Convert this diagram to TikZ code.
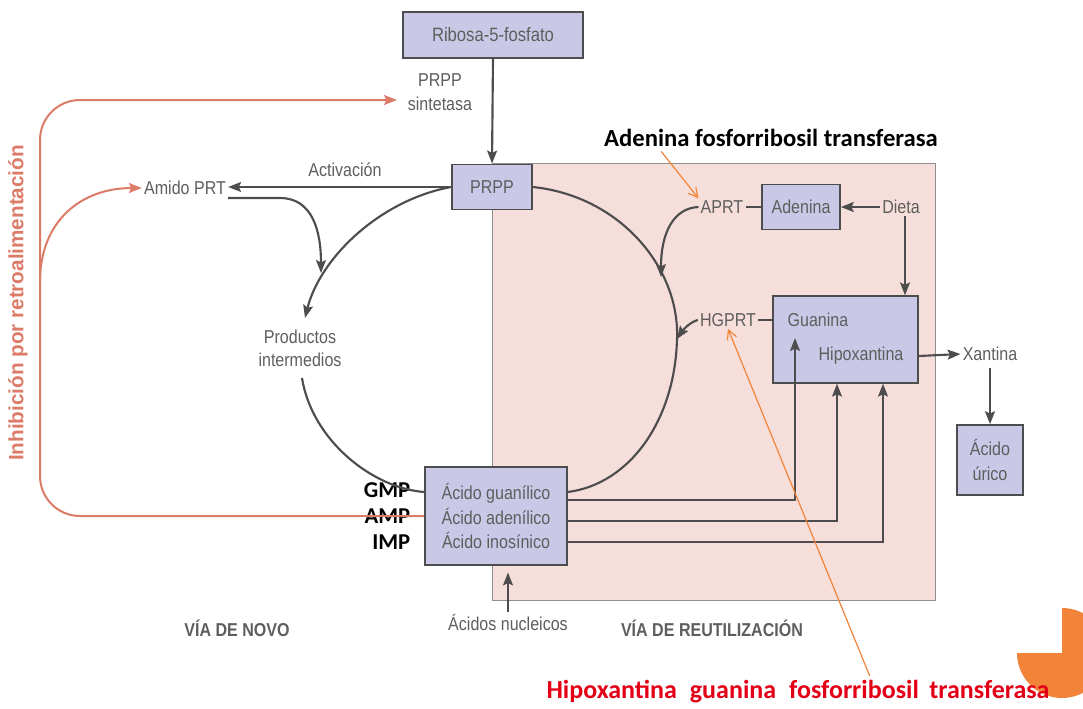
\documentclass[tikz,border=0pt]{standalone}
\usepackage{fontspec}
\setmainfont{Liberation Sans}
\newfontfamily\figfont[FakeStretch=0.86]{Liberation Sans}
\newfontfamily\notefont{Carlito}
\usepackage{xcolor}
\definecolor{cBox}{HTML}{C9C8E6}
\definecolor{cLine}{HTML}{4D4D4D}
\definecolor{cText}{HTML}{5E5E5E}
\definecolor{cPink}{HTML}{F6DFDA}
\definecolor{cRed}{HTML}{DC7B68}
\definecolor{cOrange}{HTML}{F2843A}
\definecolor{cNote}{HTML}{E30016}
\usepackage{tikz}
\usetikzlibrary{arrows.meta,calc}
\tikzset{
  node-box/.style={draw=cLine,line width=1.2pt,fill=cBox,text=cText,
    align=center,font=\figfont\fontsize{14pt}{18.5pt}\selectfont},
  node-label/.style={text=cText,align=center,inner sep=1.5pt,
    font=\figfont\fontsize{14pt}{18pt}\selectfont},
  node-title/.style={text=cText,font=\figfont\bfseries\fontsize{14pt}{16pt}\selectfont},
  node-note/.style={font=\notefont\bfseries\fontsize{17pt}{19pt}\selectfont},
  arrow/.style={-{Stealth[length=3.4mm,width=2.6mm,inset=0.6mm]},line width=1.6pt,draw=cLine},
  link/.style={line width=1.6pt,draw=cLine},
  arrow-red/.style={-{Stealth[length=3.4mm,width=2.6mm,inset=0.6mm]},line width=1.5pt,draw=cRed},
  arrow-note/.style={-{Straight Barb[length=2.4mm,width=2.6mm]},line width=0.9pt,draw=cOrange},
}

\begin{document}
\begin{tikzpicture}[x=0.75pt,y=-0.75pt]
  \useasboundingbox (0,0) rectangle (1083,708);
  % zona de reutilizacion
  \fill[cPink] (492,163) rectangle (935,600);
  \draw[cText!70,line width=0.5pt] (492,163) rectangle (935,600);
  \begin{scope}
    \clip (0,0) rectangle (1083,708);
    \fill[cOrange] (1062,653) -- (1062,608) arc[start angle=90,end angle=-180,radius=33.75pt] -- cycle;
  \end{scope}

  \node[node-box,minimum width=135pt,minimum height=34.5pt,font=\figfont\fontsize{14.5pt}{17pt}\selectfont]
                                                    (ribosa)   at (493,35)  {Ribosa-5-fosfato};
  \node[node-label]                                 (synth)    at (440,92)  {PRPP\\sintetasa};
  \node[node-box,minimum width=60pt,minimum height=34pt]  (prpp)     at (492,187) {PRPP};
  \node[node-label]                                 (amido)    at (185,188) {Amido PRT};
  \node[node-label]                                 (activ)    at (345,170) {Activación};
  \node[node-label,font=\figfont\fontsize{14pt}{17pt}\selectfont]
                                                    (interm)   at (300,348) {Productos\\intermedios};
  \node[node-box,minimum width=106.5pt,minimum height=73.5pt] (acido) at (496,516)
    {Ácido guanílico\\Ácido adenílico\\Ácido inosínico};
  \node[node-label]                                 (aprt)     at (722,207) {APRT};
  \node[node-box,minimum width=58.5pt,minimum height=34pt] (adenina)  at (801,207) {Adenina};
  \node[node-label]                                 (dieta)    at (901,207) {Dieta};
  \node[node-box,minimum width=109pt,minimum height=65pt]  (salv)     at (845.5,339.5) {};
  \node[node-label]                                 (guanina)  at (818,320) {Guanina};
  \node[node-label]                                 (hipox)    at (861,356) {Hipoxantina};
  \node[node-label]                                 (hgprt)    at (728,320) {HGPRT};
  \node[node-label]                                 (xantina)  at (990,354) {Xantina};
  \node[node-box,minimum width=49.5pt,minimum height=52.5pt] (urico) at (990,460) {Ácido\\úrico};
  \node[node-label]                                 (nucleicos) at (508,622) {Ácidos nucleicos};
  \node[node-title]                                 (novo)     at (237,628) {VÍA DE NOVO};
  \node[node-title]                                 (reutil)   at (712,628) {VÍA DE REUTILIZACIÓN};
  \node[text=cRed,rotate=90,font=\bfseries\fontsize{15.5pt}{17pt}\selectfont]
                                                    (inhib)    at (18,303)  {Inhibición por retroalimentación};
  \node[node-note,anchor=east]                      (gmp)      at (415,490) {GMP};
  \node[node-note,anchor=east]                      (amp)      at (415,516) {AMP};
  \node[node-note,anchor=east]                      (imp)      at (415,542) {IMP};
  \node[node-note,font=\notefont\bfseries\fontsize{18.5pt}{20pt}\selectfont]
                                                    (note-aprt) at (771,138) {Adenina fosforribosil transferasa};
  \node[node-note,text=cNote,font=\notefont\bfseries\fontsize{19.5pt}{21pt}\selectfont]
                                                    (note-hg)  at (798,692)
    {Hipoxantina\hspace{0.5em}guanina\hspace{0.5em}fosforribosil\hspace{0.4em}transferasa};

  \coordinate (aprt-in)  at (661,277);
  \coordinate (hg-in)    at (677,339);
  \coordinate (amido-in) at (321,273);
  \coordinate (gua-in)   at (795,338);
  \coordinate (fb-top)   at (397,100);

  % via de novo
  \draw[arrow] (ribosa.south) -- (prpp.north);
  \draw[arrow] (prpp.west) -- (prpp.west -| amido.east);
  \draw[arrow] ($(amido.east)+(0,10)$) -- (280,198) .. controls (312,198) and (321,230) .. (amido-in);
  \draw[arrow] (prpp.west) .. controls (380,200) and (320,258) .. (305,318);
  \draw[link]  (302,378) .. controls (312,440) and (372,488) .. ($(acido.west)+(0,-24)$);
  \draw[link]  (prpp.east) .. controls (620,196) and (680,268) .. (hg-in)
               .. controls (675,420) and (630,484) .. ($(acido.east)+(0,-24)$);

  % via de reutilizacion
  \draw[link]  (aprt.east) -- (adenina.west);
  \draw[arrow] (aprt.west) .. controls (674,208) and (661,232) .. (aprt-in);
  \draw[arrow] (dieta.west) -- (adenina.east);
  \draw[arrow] (dieta.south -| 905,0) -- (905,0 |- salv.north);
  \draw[link]  (hgprt.east) -- (guanina.west -| salv.west);
  \draw[arrow] (hgprt.west) .. controls (690,322) and (683,330) .. (hg-in);
  \draw[arrow] (hipox.east -| salv.east) -- (xantina.west);
  \draw[arrow,shorten <=4pt] (xantina.south) -- (urico.north);
  \draw[arrow] ($(acido.east)+(0,-16)$) -| (gua-in);
  \draw[arrow] ($(acido.east)+(0,5)$) -| ($(salv.south)+(-8.5,0)$);
  \draw[arrow] ($(acido.east)+(0,26)$) -| ($(salv.south)+(37.5,0)$);
  \draw[arrow,shorten >=5pt] (nucleicos.north) -- (nucleicos.north |- acido.south);

  % inhibicion
  \draw[arrow-red,rounded corners=30pt] (acido.west) -- (40,516) -- (40,100) -- (fb-top);
  \draw[arrow-red] (40,282) .. controls (40,220) and (82,188) .. (amido.west);

  % anotaciones
  \draw[arrow-note] ($(note-aprt.south west)!0.18!(note-aprt.south east)$) -- (aprt.north west);
  \draw[arrow-note] ($(note-hg.north west)!0.64!(note-hg.north east)$) -- (hgprt.south);
\end{tikzpicture}
\end{document}
